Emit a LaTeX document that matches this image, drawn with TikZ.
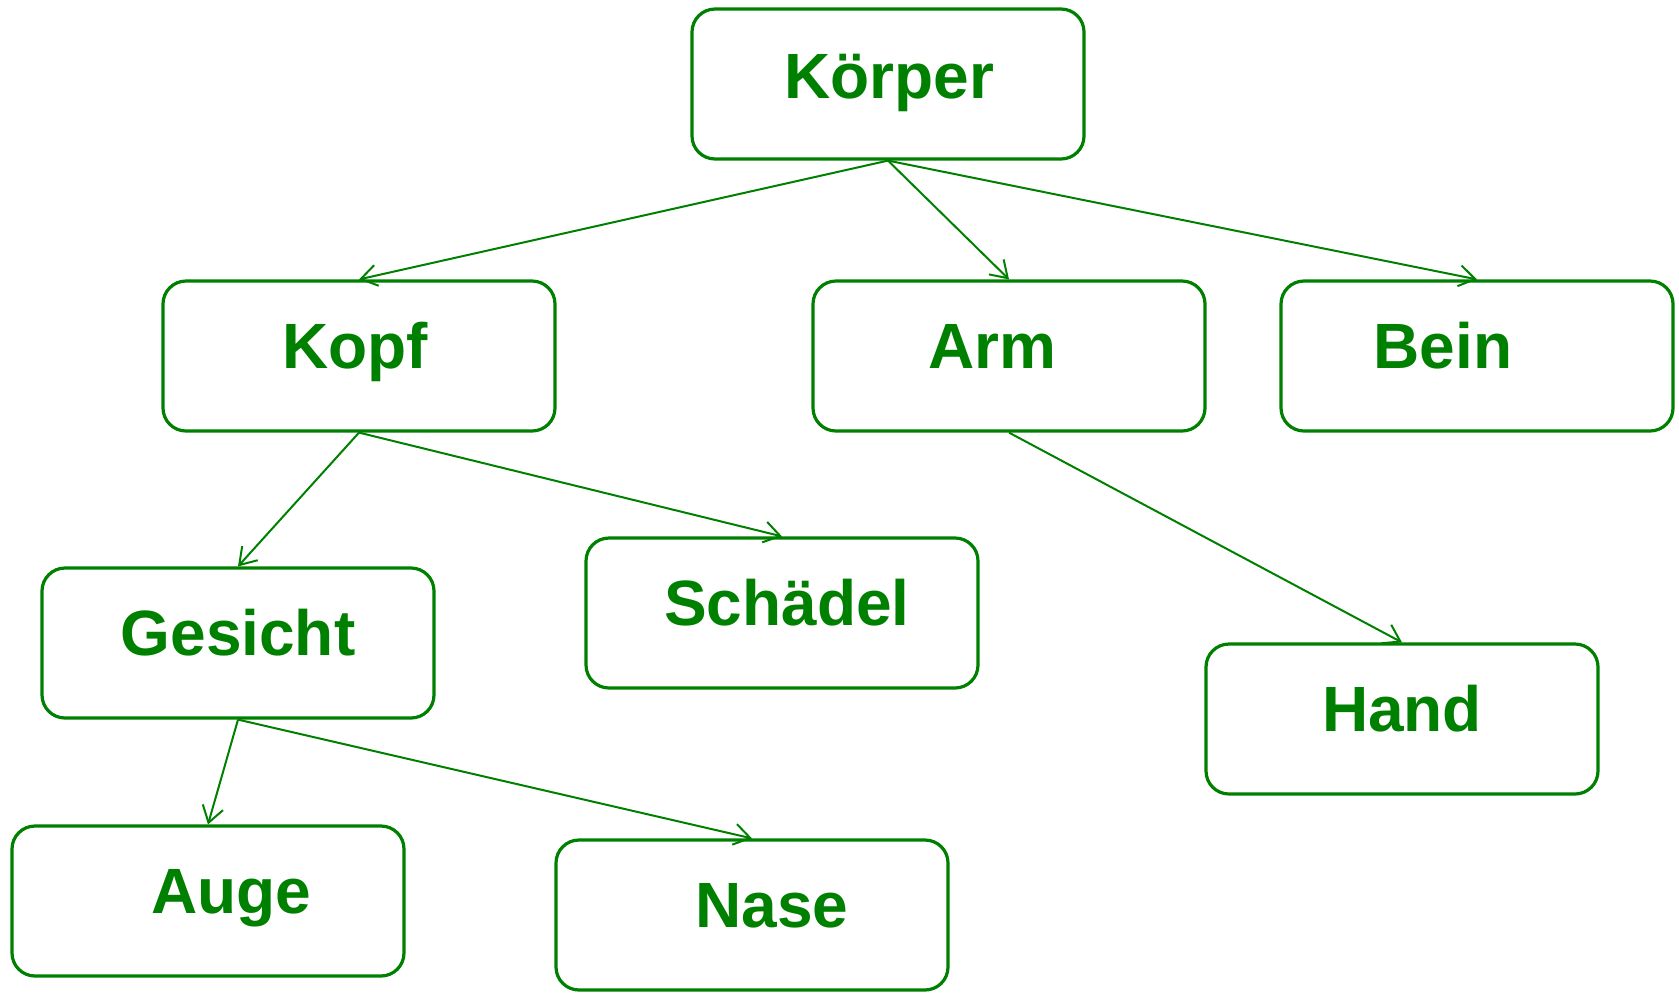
\documentclass[tikz,border=0pt]{standalone}
\usepackage{fontspec}
\setmainfont{Liberation Sans}
\usetikzlibrary{arrows.meta,calc}
\definecolor{dgreen}{RGB}{0,128,0}
\tikzset{
  box/.style={draw=dgreen, line width=1.6pt, rounded corners=11.5pt, minimum width=196pt, minimum height=75pt, inner sep=0pt, fill=white},
  lbl/.style={text=dgreen, font=\bfseries\fontsize{32}{38}\selectfont, anchor=base, inner sep=0pt},
  conn/.style={draw=dgreen, line width=1pt, -{Straight Barb[length=8pt,width=10.5pt]}}
}
\begin{document}
\begin{tikzpicture}[x=0.5pt,y=-0.5pt]
\useasboundingbox (0,0) rectangle (1679,992);
\node[box] (koerper) at (888,84) {};
\node[box] (kopf) at (359,356) {};
\node[box] (arm) at (1009,356) {};
\node[box] (bein) at (1477,356) {};
\node[box] (gesicht) at (238,643) {};
\node[box] (schaedel) at (782,613) {};
\node[box] (hand) at (1402,719) {};
\node[box] (auge) at (208,901) {};
\node[box] (nase) at (752,915) {};
\node[lbl] (tkoerper) at ($(koerper.center)+(1,14)$) {Körper};
\node[lbl] (tkopf) at ($(kopf.center)+(-4,12)$) {Kopf};
\node[lbl] (tarm) at ($(arm.center)+(-17,12)$) {Arm};
\node[lbl] (tbein) at ($(bein.center)+(-34,12)$) {Bein};
\node[lbl] (tgesicht) at ($(gesicht.center)+(0,12)$) {Gesicht};
\node[lbl] (tschaedel) at ($(schaedel.center)+(5,12)$) {Schädel};
\node[lbl] (thand) at ($(hand.center)+(0,12)$) {Hand};
\node[lbl] (tauge) at ($(auge.center)+(23,12)$) {Auge};
\node[lbl] (tnase) at ($(nase.center)+(20,12)$) {Nase};
\draw[conn] (koerper.south) -- (kopf.north);
\draw[conn] (koerper.south) -- (arm.north);
\draw[conn] (koerper.south) -- (bein.north);
\draw[conn] (kopf.south) -- (gesicht.north);
\draw[conn] (kopf.south) -- (schaedel.north);
\draw[conn] (arm.south) -- (hand.north);
\draw[conn] (gesicht.south) -- (auge.north);
\draw[conn] (gesicht.south) -- (nase.north);
\end{tikzpicture}
\end{document}
